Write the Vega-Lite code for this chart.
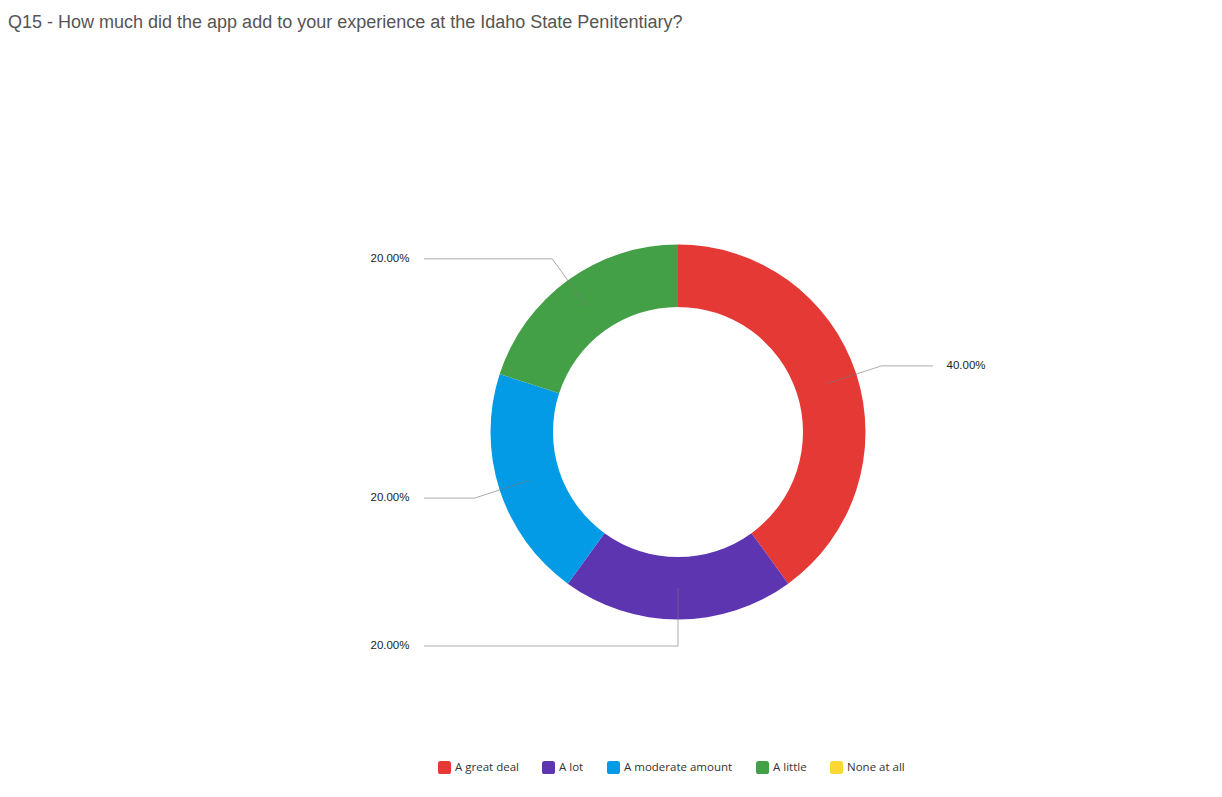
{
  "$schema": "https://vega.github.io/schema/vega-lite/v6.json",
  "autosize": {"type": "none"},
  "width": 600,
  "height": 600,
  "padding": {"left": 378, "top": 132, "right": 244, "bottom": 65},
  "background": "white",
  "config": {"view": {"stroke": null}},
  "title": {
    "text": "Q15 - How much did the app add to your experience at the Idaho State Penitentiary?",
    "anchor": "start",
    "frame": "group",
    "dx": -370,
    "dy": -96,
    "font": "Liberation Sans",
    "fontSize": 18,
    "fontWeight": "normal",
    "color": "#555555"
  },
  "data": {
    "values": [
      {"response": "A great deal", "share": 0.4, "order": 1},
      {"response": "A lot", "share": 0.2, "order": 2},
      {"response": "A moderate amount", "share": 0.2, "order": 3},
      {"response": "A little", "share": 0.2, "order": 4},
      {"response": "None at all", "share": 0.0, "order": 5}
    ]
  },
  "layer": [
    {
      "mark": {"type": "arc", "outerRadius": 187.5, "innerRadius": 125},
      "encoding": {
        "theta": {"field": "share", "type": "quantitative", "stack": true},
        "order": {"field": "order", "type": "quantitative"},
        "color": {
          "field": "response",
          "type": "nominal",
          "scale": {
            "domain": ["A great deal", "A lot", "A moderate amount", "A little", "None at all"],
            "range": ["#e53935", "#5e35b1", "#039be5", "#43a047", "#fdd835"]
          },
          "legend": {
            "title": null,
            "orient": "none",
            "direction": "horizontal",
            "legendX": 60,
            "legendY": 629,
            "symbolType": "M -0.6 -1 L 0.6 -1 Q 1 -1 1 -0.6 L 1 0.6 Q 1 1 0.6 1 L -0.6 1 Q -1 1 -1 0.6 L -1 -0.6 Q -1 -1 -0.6 -1 Z",
            "symbolSize": 169,
            "symbolStrokeWidth": 0,
            "symbolOpacity": 1,
            "labelFont": "Open Sans",
            "labelFontSize": 11.5,
            "labelColor": "#333333",
            "labelOffset": 4,
            "columnPadding": 23
          }
        }
      }
    },
    {
      "transform": [
        {"window": [{"op": "sum", "field": "share", "as": "cum"}], "sort": [{"field": "order"}], "frame": [null, 0]},
        {"joinaggregate": [{"op": "sum", "field": "share", "as": "total"}]},
        {"filter": "datum.share > 0"},
        {"calculate": "(datum.cum - datum.share / 2) / datum.total * 2 * PI", "as": "mid"},
        {"calculate": "156 * sin(datum.mid)", "as": "x0"},
        {"calculate": "156 * cos(datum.mid)", "as": "y0"},
        {"calculate": "214 * sin(datum.mid)", "as": "x1"},
        {"calculate": "214 * cos(datum.mid)", "as": "y1"},
        {"calculate": "datum.mid < PI - 0.001 ? 1 : -1", "as": "side"},
        {"calculate": "datum.side > 0 ? 255 : -254", "as": "x2"},
        {"calculate": "datum.side * 268.5", "as": "xt"}
      ],
      "encoding": {
        "y": {"field": "y1", "type": "quantitative", "scale": {"domain": [-300, 300], "nice": false, "zero": false}, "axis": null}
      },
      "layer": [
        {
          "mark": {"type": "rule", "stroke": "#777777", "strokeOpacity": 0.6, "strokeWidth": 1},
          "encoding": {
            "x": {"field": "x0", "type": "quantitative", "scale": {"domain": [-300, 300], "nice": false, "zero": false}, "axis": null},
            "y": {"field": "y0", "type": "quantitative"},
            "x2": {"field": "x1"},
            "y2": {"field": "y1"}
          }
        },
        {
          "mark": {"type": "rule", "stroke": "#777777", "strokeOpacity": 0.6, "strokeWidth": 1},
          "encoding": {
            "x": {"field": "x1", "type": "quantitative"},
            "x2": {"field": "x2"},
            "y": {"field": "y1", "type": "quantitative"}
          }
        },
        {
          "mark": {
            "type": "text",
            "font": "Liberation Sans",
            "fontSize": 11.5,
            "color": "#222222",
            "baseline": "middle",
            "align": {"expr": "datum.side > 0 ? 'left' : 'right'"}
          },
          "encoding": {
            "x": {"field": "xt", "type": "quantitative"},
            "y": {"field": "y1", "type": "quantitative"},
            "text": {"field": "share", "type": "quantitative", "format": ".2%"}
          }
        }
      ]
    }
  ]
}
